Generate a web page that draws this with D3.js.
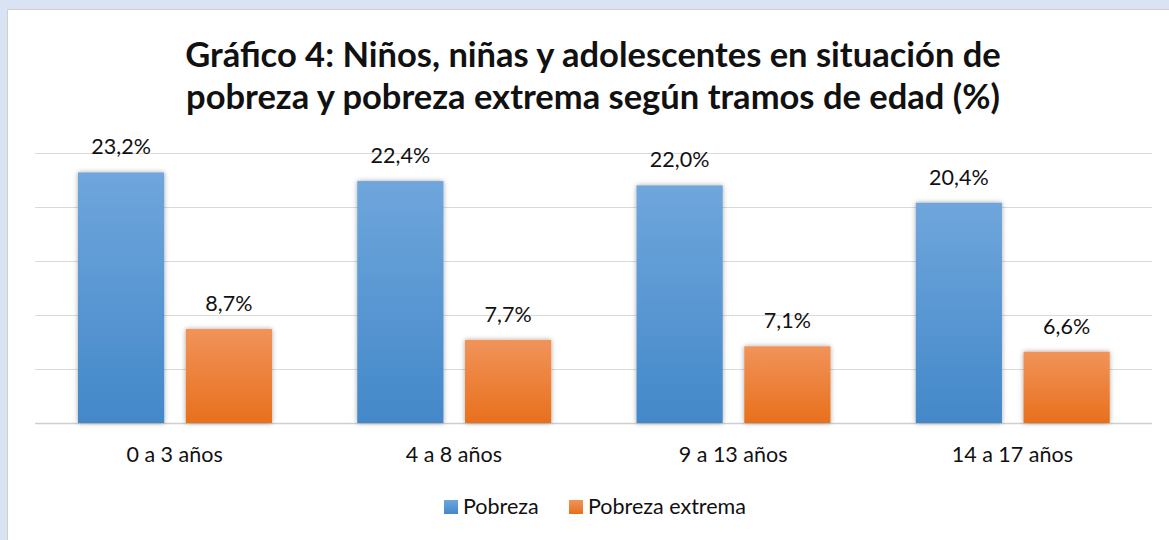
<!DOCTYPE html>
<html>
<head>
<meta charset="utf-8">
<script src="https://cdn.jsdelivr.net/npm/d3@7"></script>
<style>
body { margin: 0; background: #dae3f3; }
#vis { width: 1169px; height: 540px; }
text { font-family: Lato, "Open Sans", sans-serif; fill: #111; }
</style>
</head>
<body>
<div id="vis"></div>
<script>
var categories = ['0 a 3 años', '4 a 8 años', '9 a 13 años', '14 a 17 años'];
var series = ['Pobreza', 'Pobreza extrema'];
var pobreza = [23.2, 22.4, 22.0, 20.4];
var pobreza_extrema = [8.7, 7.7, 7.1, 6.6];
var y_ticks = [0, 5, 10, 15, 20, 25];

var width = 1169, height = 540;

var svg = d3.select('#vis')
    .append('svg')
    .attr('width', width)
    .attr('height', height);

var defs = svg.append('defs');

function grad(id, top, bottom) {
    var g = defs.append('linearGradient')
        .attr('id', id)
        .attr('x1', 0).attr('y1', 0).attr('x2', 0).attr('y2', 1);
    g.append('stop').attr('offset', '0%').attr('stop-color', top);
    g.append('stop').attr('offset', '100%').attr('stop-color', bottom);
}
grad('g_blue', '#6fa6dc', '#4388c9');
grad('g_orange', '#f1935a', '#e8701c');

var f = defs.append('filter').attr('id', 'shadow')
    .attr('x', '-20%').attr('y', '-10%').attr('width', '140%').attr('height', '120%');
f.append('feDropShadow').attr('dx', 0).attr('dy', 0).attr('stdDeviation', 2.5)
    .attr('flood-color', '#000').attr('flood-opacity', 0.35);

// white chart panel
svg.append('rect')
    .attr('x', 7.5).attr('y', 9.5)
    .attr('width', 1175).attr('height', 540)
    .attr('fill', '#fff')
    .attr('stroke', '#d0d0d0');

var margin = { left: 35, right: 17, top: 153, bottom: 117 };
var plot_w = width - margin.left - margin.right;
var plot_h = height - margin.top - margin.bottom;

var g = svg.append('g')
    .attr('transform', 'translate(' + margin.left + ',' + margin.top + ')');

var x_scale = d3.scaleBand()
    .domain(categories)
    .range([0, plot_w]);

var x_inner = d3.scaleBand()
    .domain(series)
    .range([43, 237])
    .paddingInner(0.2);

var y_scale = d3.scaleLinear()
    .domain([0, 25])
    .range([plot_h, 0]);

g.selectAll('.grid')
    .data(y_ticks)
    .enter()
    .append('line')
    .attr('class', 'grid')
    .attr('x1', 0)
    .attr('x2', plot_w)
    .attr('y1', function (d) { return Math.round(y_scale(d)) + 0.5; })
    .attr('y2', function (d) { return Math.round(y_scale(d)) + 0.5; })
    .attr('stroke', function (d) { return d === 0 ? '#cfcfcf' : '#dadada'; })
    .attr('stroke-width', function (d) { return d === 0 ? 1.5 : 1; });

var rows = [];
categories.forEach(function (c, i) {
    rows.push({ cat: c, s: series[0], v: pobreza[i] });
    rows.push({ cat: c, s: series[1], v: pobreza_extrema[i] });
});

g.selectAll('.bar')
    .data(rows)
    .enter()
    .append('rect')
    .attr('class', 'bar')
    .attr('x', function (d) { return x_scale(d.cat) + x_inner(d.s); })
    .attr('width', x_inner.bandwidth())
    .attr('y', function (d) { return y_scale(d.v); })
    .attr('height', function (d) { return plot_h - y_scale(d.v); })
    .attr('fill', function (d) { return d.s === series[0] ? 'url(#g_blue)' : 'url(#g_orange)'; })
    .attr('filter', 'url(#shadow)');

g.selectAll('.lbl')
    .data(rows)
    .enter()
    .append('text')
    .attr('class', 'lbl')
    .attr('x', function (d) { return x_scale(d.cat) + x_inner(d.s) + x_inner.bandwidth() / 2; })
    .attr('y', function (d) { return y_scale(d.v) - 18; })
    .attr('text-anchor', 'middle')
    .style('font-size', '21.5px')
    .text(function (d) { return d.v.toFixed(1).replace('.', ',') + '%'; });

g.selectAll('.cat')
    .data(categories)
    .enter()
    .append('text')
    .attr('class', 'cat')
    .attr('x', function (d) { return x_scale(d) + x_scale.bandwidth() / 2; })
    .attr('y', plot_h + 39)
    .attr('text-anchor', 'middle')
    .style('font-size', '21.5px')
    .text(function (d) { return d; });

// title
var title = svg.append('text')
    .attr('x', 593)
    .attr('text-anchor', 'middle')
    .style('font-size', '34.5px')
    .style('font-weight', 'bold');
title.append('tspan').attr('x', 593).attr('y', 67)
    .text('Gráfico 4: Niños, niñas y adolescentes en situación de');
title.append('tspan').attr('x', 593).attr('y', 109)
    .text('pobreza y pobreza extrema según tramos de edad (%)');

// legend
var legend = svg.append('g').attr('transform', 'translate(444,514)');
var legend_x = [0, 125];
series.forEach(function (s, i) {
    var lg = legend.append('g').attr('transform', 'translate(' + legend_x[i] + ',0)');
    lg.append('rect')
        .attr('x', 0).attr('y', -14)
        .attr('width', 14).attr('height', 14)
        .attr('fill', i === 0 ? 'url(#g_blue)' : 'url(#g_orange)');
    lg.append('text')
        .attr('x', 19).attr('y', 0)
        .style('font-size', '21.5px')
        .text(s);
});
</script>
</body>
</html>
